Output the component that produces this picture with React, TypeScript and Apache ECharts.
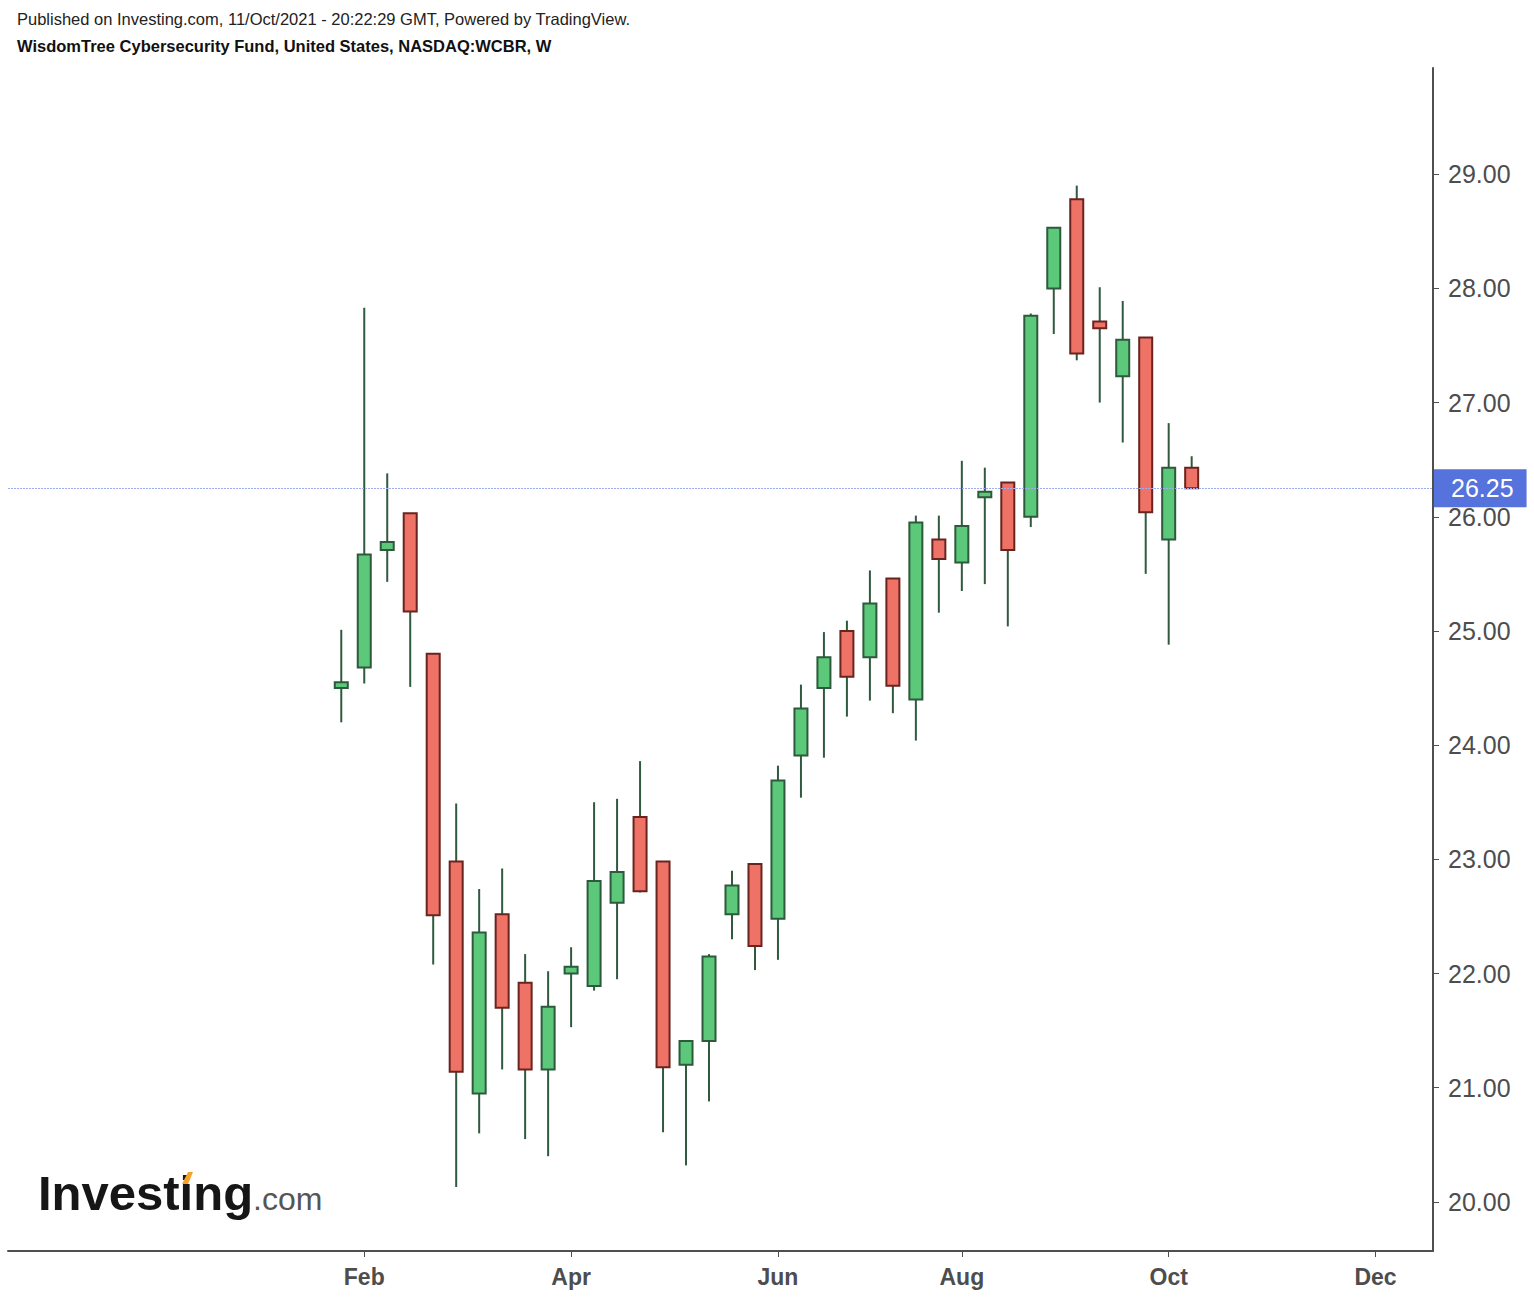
import React, { useEffect, useRef } from "react";
import * as echarts from "echarts";

// ---- Data (weekly candles, NASDAQ:WCBR) ----
const dates = [
  "2021-01-25", "2021-02-01", "2021-02-08", "2021-02-15", "2021-02-22",
  "2021-03-01", "2021-03-08", "2021-03-15", "2021-03-22", "2021-03-29",
  "2021-04-05", "2021-04-12", "2021-04-19", "2021-04-26", "2021-05-03",
  "2021-05-10", "2021-05-17", "2021-05-24", "2021-05-31", "2021-06-07",
  "2021-06-14", "2021-06-21", "2021-06-28", "2021-07-05", "2021-07-12",
  "2021-07-19", "2021-07-26", "2021-08-02", "2021-08-09", "2021-08-16",
  "2021-08-23", "2021-08-30", "2021-09-06", "2021-09-13", "2021-09-20",
  "2021-09-27", "2021-10-04", "2021-10-11",
];
const opens = [
  24.5, 24.68, 25.71, 26.03, 24.8, 22.98, 20.95, 22.52, 21.92, 21.16,
  22.0, 21.89, 22.62, 23.37, 22.98, 21.2, 21.41, 22.52, 22.96, 22.48,
  23.91, 24.5, 25.0, 24.77, 25.46, 24.4, 25.8, 25.6, 26.17, 26.3,
  26.0, 28.0, 28.78, 27.71, 27.23, 27.57, 25.8, 26.43,
];
const closes = [
  24.55, 25.67, 25.78, 25.17, 22.51, 21.14, 22.36, 21.7, 21.16, 21.71,
  22.06, 22.81, 22.89, 22.72, 21.18, 21.41, 22.15, 22.77, 22.24, 23.69,
  24.32, 24.77, 24.6, 25.24, 24.52, 25.95, 25.63, 25.92, 26.22, 25.71,
  27.76, 28.53, 27.43, 27.65, 27.55, 26.04, 26.43, 26.25,
];
const lows = [
  24.2, 24.54, 25.43, 24.51, 22.08, 20.13, 20.6, 21.16, 20.55, 20.4,
  21.53, 21.85, 21.95, 22.71, 20.61, 20.32, 20.88, 22.3, 22.03, 22.12,
  23.54, 23.89, 24.25, 24.39, 24.28, 24.04, 25.16, 25.35, 25.41, 25.04,
  25.91, 27.6, 27.37, 27.0, 26.65, 25.5, 24.88, 26.25,
];
const highs = [
  25.01, 27.83, 26.38, 26.03, 24.8, 23.49, 22.74, 22.92, 22.17, 22.02,
  22.23, 23.5, 23.53, 23.86, 22.98, 21.41, 22.17, 22.9, 22.96, 23.82,
  24.53, 24.99, 25.09, 25.53, 25.46, 26.01, 26.01, 26.49, 26.43, 26.3,
  27.78, 28.53, 28.9, 28.01, 27.89, 27.57, 26.82, 26.53,
];
const lastPrice = 26.25;

// x-axis: weekly slots from Oct 2020 to Dec 2021, labels at the first bar of the month
const axisStart = "2020-10-19";
const axisWeeks = 62;
const tickDates = ["2021-02-01", "2021-04-05", "2021-06-07", "2021-08-02", "2021-10-04", "2021-12-06"];
const tickLabels = ["Feb", "Apr", "Jun", "Aug", "Oct", "Dec"];
const yTicks = [20, 21, 22, 23, 24, 25, 26, 27, 28, 29];

const title1 = "Published on Investing.com, 11/Oct/2021 - 20:22:29 GMT, Powered by TradingView.";
const title2 = "WisdomTree Cybersecurity Fund, United States, NASDAQ:WCBR, W";

const FONT = '"Liberation Sans", Arial, Helvetica, sans-serif';
const GREEN = "#5cc87a";
const GREEN_BORDER = "#2d5a3c";
const RED = "#ee7266";
const RED_BORDER = "#6a2420";
const WICK = "#2f5a3e";
const AXIS = "#4f4f4f";

function buildWeeks(): string[] {
  const out: string[] = [];
  const t0 = Date.parse(axisStart + "T00:00:00Z");
  for (let i = 0; i < axisWeeks; i++) {
    out.push(new Date(t0 + i * 7 * 86400000).toISOString().slice(0, 10));
  }
  return out;
}

export default function App() {
  const ref = useRef<HTMLDivElement>(null);

  useEffect(() => {
    if (!ref.current) return;
    const chart = echarts.init(ref.current, null, { renderer: "svg" });
    const weeks = buildWeeks();
    const data = dates.map((d, i) => [weeks.indexOf(d), opens[i], closes[i], lows[i], highs[i]]);
    const isTick = (v: string) => tickDates.indexOf(v) >= 0;

    chart.setOption({
      animation: false,
      backgroundColor: "#ffffff",
      grid: { left: 8, right: 101, top: 68, bottom: 51, outerBoundsMode: "none" },
      xAxis: {
        type: "category",
        data: weeks,
        boundaryGap: true,
        axisLine: { show: true, lineStyle: { color: AXIS, width: 2 } },
        axisTick: {
          show: true,
          alignWithLabel: true,
          interval: (_i: number, v: string) => isTick(v),
          length: 6,
          lineStyle: { color: AXIS, width: 1 },
        },
        axisLabel: {
          interval: (_i: number, v: string) => isTick(v),
          formatter: (v: string) => {
            const k = tickDates.indexOf(v);
            return k >= 0 ? tickLabels[k] : "";
          },
          color: "#4d4d4d",
          fontFamily: FONT,
          fontWeight: "bold",
          fontSize: 23,
          margin: 14,
        },
        splitLine: { show: false },
      },
      yAxis: {
        type: "value",
        position: "right",
        min: 19.57,
        max: 29.93,
        axisLine: { show: true, lineStyle: { color: AXIS, width: 2 } },
        axisTick: {
          show: true,
          customValues: yTicks,
          length: 6,
          lineStyle: { color: AXIS, width: 1 },
        },
        axisLabel: {
          customValues: yTicks,
          formatter: (v: number) => v.toFixed(2),
          color: "#4d4d4d",
          fontFamily: FONT,
          fontSize: 25,
          margin: 15,
        },
        splitLine: { show: false },
      },
      series: [
        {
          type: "custom",
          data,
          encode: { x: 0, y: [1, 2, 3, 4] },
          renderItem: (_p: any, api: any) => {
            const idx = api.value(0);
            const o = api.value(1);
            const c = api.value(2);
            const l = api.value(3);
            const h = api.value(4);
            const pH = api.coord([idx, h]);
            const pL = api.coord([idx, l]);
            const yO = api.coord([idx, o])[1];
            const yC = api.coord([idx, c])[1];
            const x = pH[0];
            const up = c >= o;
            const top = Math.min(yO, yC);
            const hgt = Math.max(Math.abs(yO - yC), 3);
            const bw = 13;
            return {
              type: "group",
              children: [
                {
                  type: "line",
                  shape: { x1: x, y1: pH[1], x2: x, y2: pL[1] },
                  style: { stroke: WICK, lineWidth: 2 },
                },
                {
                  type: "rect",
                  shape: { x: x - bw / 2, y: top, width: bw, height: hgt },
                  style: {
                    fill: up ? GREEN : RED,
                    stroke: up ? GREEN_BORDER : RED_BORDER,
                    lineWidth: 2,
                  },
                },
              ],
            };
          },
          markLine: {
            silent: true,
            symbol: ["none", "none"],
            lineStyle: { color: "#9cadf0", type: [2, 1], width: 1 },
            label: {
              show: true,
              position: "end",
              distance: 1,
              formatter: () => lastPrice.toFixed(2),
              color: "#ffffff",
              backgroundColor: "#5672dd",
              fontFamily: FONT,
              fontSize: 25,
              lineHeight: 28,
              padding: [5, 13, 5, 17],
            },
            data: [{ yAxis: lastPrice }],
          },
        },
      ],
      graphic: [
        {
          type: "text",
          x: 17,
          y: 19,
          style: {
            text: title1,
            font: `16.5px ${FONT}`,
            fill: "#222222",
            verticalAlign: "middle",
          },
        },
        {
          type: "text",
          x: 17,
          y: 46,
          style: {
            text: title2,
            font: `bold 16.5px ${FONT}`,
            fill: "#111111",
            verticalAlign: "middle",
          },
        },
        {
          type: "text",
          x: 38,
          y: 1193,
          style: {
            text: "Investing",
            font: `bold 49px ${FONT}`,
            fill: "#161616",
            verticalAlign: "middle",
          },
        },
        {
          type: "text",
          x: 253,
          y: 1199,
          style: {
            text: ".com",
            font: `32px ${FONT}`,
            fill: "#555555",
            verticalAlign: "middle",
          },
        },
        {
          type: "polygon",
          shape: { points: [[182, 1184], [188, 1184], [193, 1172], [188, 1172]] },
          style: { fill: "#f4a22a" },
        },
      ],
    });

    return () => chart.dispose();
  }, []);

  return (
    <div
      ref={ref}
      style={{ position: "absolute", left: 0, top: 0, width: 1534, height: 1302 }}
    />
  );
}
